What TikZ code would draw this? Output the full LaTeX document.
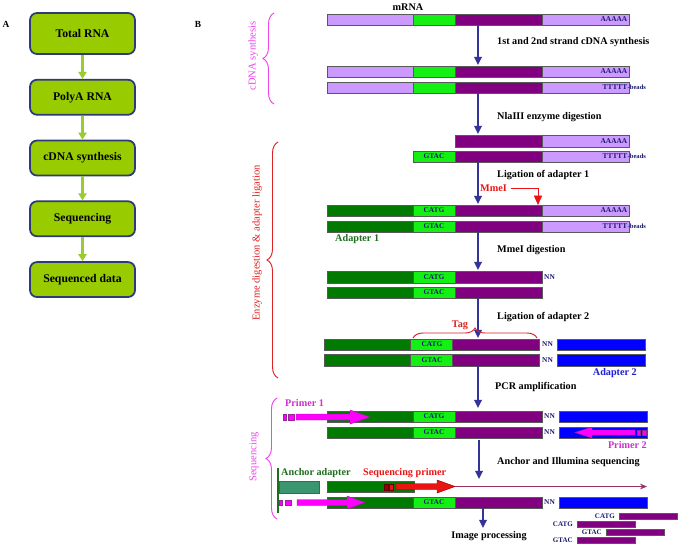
\documentclass[tikz,border=0pt]{standalone}
\usepackage{fontspec}
\setmainfont{Liberation Serif}
\usetikzlibrary{arrows.meta,positioning,decorations.pathreplacing}

\definecolor{lilac}{RGB}{204,153,255}
\definecolor{cutgreen}{RGB}{20,240,20}
\definecolor{tagpurple}{RGB}{128,0,128}
\definecolor{adgreen}{RGB}{0,122,0}
\definecolor{adblue}{RGB}{0,0,255}
\definecolor{navytext}{RGB}{26,26,110}
\definecolor{steparrow}{RGB}{51,51,153}
\definecolor{flowfill}{RGB}{153,204,0}
\definecolor{flowline}{RGB}{46,58,120}
\definecolor{flowarrow}{RGB}{153,204,51}
\definecolor{primerpink}{RGB}{255,0,255}
\definecolor{primerline}{RGB}{150,40,150}
\definecolor{primerlabel}{RGB}{204,51,204}
\definecolor{anchorgreen}{RGB}{58,150,110}
\definecolor{readline}{RGB}{153,51,102}
\definecolor{bracepink}{RGB}{238,68,238}
\definecolor{bracered}{RGB}{220,34,34}
\definecolor{cutred}{RGB}{235,20,20}
\definecolor{labgreen}{RGB}{30,110,30}
\definecolor{labblue}{RGB}{30,30,210}

\begin{document}
\begin{tikzpicture}[x=0.03cm, y=-0.03cm,
  flowbox/.style={draw=flowline, line width=1.5pt, fill=flowfill, rounded corners=6pt, minimum width=3.15cm, minimum height=1.05cm, font=\bfseries\fontsize{10}{12}\selectfont},
  flowarr/.style={-{Triangle[length=6pt,width=7pt]}, line width=1.8pt, draw=flowarrow},
  seg/.style={draw=black!65, line width=0.5pt},
  steparr/.style={-{Triangle[length=7pt,width=6.5pt]}, line width=1.6pt, draw=steparrow},
  cutarr/.style={-{Triangle[length=8pt,width=7pt]}, line width=0.6pt, draw=cutred},
  lab/.style={font=\bfseries\fontsize{8.7}{10}\selectfont, inner sep=0pt},
  base/.style={font=\bfseries\fontsize{6.3}{7}\selectfont, inner sep=0pt, text=navytext},
  bead/.style={font=\bfseries\fontsize{5.6}{6}\selectfont, inner sep=0pt, text=navytext},
  side/.style={font=\fontsize{9}{10}\selectfont, inner sep=0pt, rotate=90},
  curly/.style={decorate, decoration={brace, amplitude=0.33cm}, line width=0.8pt},
  primer/.style={fill=primerpink, draw=primerline, line width=0.4pt}
]
\path[use as bounding box, fill=white] (0,0) rectangle (681,548);

% A: workflow
\node[font=\bfseries\fontsize{8}{9}\selectfont] (panA) at (6,24) {A};
\node[flowbox, minimum height=1.23cm] (total) at (82.5,33.5) {Total RNA};
\node[flowbox, below=0.72cm of total] (polya) {PolyA RNA};
\node[flowbox, below=0.72cm of polya] (cdna) {cDNA synthesis};
\node[flowbox, below=0.72cm of cdna] (seq) {Sequencing};
\node[flowbox, below=0.72cm of seq] (data) {Sequenced data};
\draw[flowarr] (total) -- (polya);
\draw[flowarr] (polya) -- (cdna);
\draw[flowarr] (cdna) -- (seq);
\draw[flowarr] (seq) -- (data);

% B: tag protocol
\node[font=\bfseries\fontsize{8}{9}\selectfont] (panB) at (198,24) {B};
\node[lab] (mrna) at (408,7) {mRNA};

\foreach \ya/\yb in {14/25, 66/77, 82/93} {
  \draw[seg, fill=lilac] (327,\ya) rectangle (413,\yb);
  \draw[seg, fill=cutgreen] (413,\ya) rectangle (455,\yb);
  \draw[seg, fill=tagpurple] (455,\ya) rectangle (542,\yb);
  \draw[seg, fill=lilac] (542,\ya) rectangle (629,\yb);
}
\draw[seg, fill=tagpurple] (455,135) rectangle (542,147);
\draw[seg, fill=lilac] (542,135) rectangle (629,147);
\draw[seg, fill=cutgreen] (413,151) rectangle (455,162);
\draw[seg, fill=tagpurple] (455,151) rectangle (542,162);
\draw[seg, fill=lilac] (542,151) rectangle (629,162);
\foreach \ya/\yb in {205/216, 221/232} {
  \draw[seg, fill=adgreen] (327,\ya) rectangle (413,\yb);
  \draw[seg, fill=cutgreen] (413,\ya) rectangle (455,\yb);
  \draw[seg, fill=tagpurple] (455,\ya) rectangle (542,\yb);
  \draw[seg, fill=lilac] (542,\ya) rectangle (629,\yb);
}
\foreach \dx/\ya/\yb in {0/271/283, 0/287/298, -3/339/350, -3/354/366, 0/411/422, 0/427/438, 0/497/508} {
  \draw[seg, fill=adgreen] (327+\dx,\ya) rectangle (413+\dx,\yb);
  \draw[seg, fill=cutgreen] (413+\dx,\ya) rectangle (455+\dx,\yb);
  \draw[seg, fill=tagpurple] (455+\dx,\ya) rectangle (542+\dx,\yb);
}
\foreach \xa/\ya/\yb in {557/339/350, 557/354/366, 559/411/422, 559/427/438, 559/497/508}
  \draw[seg, fill=adblue] (\xa,\ya) rectangle (\xa+88,\yb);
\draw[seg, fill=adgreen] (327,481) rectangle (414,492);
\draw[seg, fill=anchorgreen] (279,481) rectangle (319,493);

% base labels
\foreach \y [count=\i] in {19.5, 71.5, 141, 210.5}
  \node[base, anchor=east] (polyA\i) at (627.5,\y) {AAAAA};
\foreach \y [count=\i] in {87.5, 156.5, 226.5} {
  \node[base, anchor=east] (polyT\i) at (627.5,\y) {TTTTT};
  \node[bead, anchor=west] (bead\i) at (polyT\i.east) {-beads};
}
\foreach \x/\y [count=\i] in {434/210.5, 434/277, 432/344.5, 434/416.5}
  \node[base] (catg\i) at (\x,\y) {CATG};
\foreach \x/\y [count=\i] in {434/156.5, 434/226.5, 434/292.5, 432/360, 434/432.5, 434/502.5}
  \node[base] (gtac\i) at (\x,\y) {GTAC};
\foreach \x/\y [count=\i] in {544/277, 542/344.5, 542/360, 544/416.5, 544/432.5, 544/502.5}
  \node[base, anchor=west] (nn\i) at (\x,\y) {NN};

% steps
\foreach \i/\x/\ya/\yb in {1/478/25/65, 2/478/93/134, 3/478/162/204, 4/478/232/270, 5/478/298/338, 6/478/366/408, 7/479/440/479, 8/483/508/528} {
  \coordinate (from\i) at (\x,\ya);
  \coordinate (to\i) at (\x,\yb);
  \draw[steparr] (from\i) -- (to\i);
}
\node[lab, anchor=west] (syn) at (497,42) {1st and 2nd strand cDNA synthesis};
\node[lab, anchor=west] (nla) at (497,117) {NlaIII enzyme digestion};
\node[lab, anchor=west] (lig1) at (497,175) {Ligation of adapter 1};
\node[lab, anchor=west] (mdig) at (497,250) {MmeI digestion};
\node[lab, anchor=west] (lig2) at (497,317) {Ligation of adapter 2};
\node[lab, anchor=west] (pcr) at (495,387) {PCR amplification};
\node[lab, anchor=west] (illu) at (497,462) {Anchor and Illumina sequencing};
\node[lab] (img) at (489,536) {Image processing};

% MmeI site and tag
\node[lab, text=cutred, anchor=west] (mmei) at (480,188) {MmeI};
\coordinate (mmeisite) at (538,205);
\draw[cutarr, shorten <=3pt] (mmei.east) -| (mmeisite);
\draw[curly, bracered, decoration={amplitude=0.3cm}] (413,338) -- (537,338);
\node[lab, text=bracered] (tag) at (460,325) {Tag};
\node[lab, text=labgreen, anchor=west] (ad1) at (335,239) {Adapter 1};
\node[lab, text=labblue, anchor=east] (ad2) at (637,373) {Adapter 2};

% primers
\node[lab, text=primerlabel, anchor=west] (pr1) at (285,403) {Primer 1};
\filldraw[primer] (283,414) rectangle (286,420) (288,414) rectangle (294,420);
\filldraw[primer] (296,414) -- (350,414) -- (350,410) -- (370,417) -- (350,424) -- (350,420) -- (296,420) -- cycle;
\node[lab, text=primerlabel, anchor=east] (pr2) at (647,445) {Primer 2};
\filldraw[primer] (637,430) rectangle (640,435) (642,430) rectangle (646,435);
\filldraw[primer] (635,430) -- (592,430) -- (592,427) -- (575,432.5) -- (592,438) -- (592,435) -- (635,435) -- cycle;
\filldraw[primer] (279,500) rectangle (282,505) (285,500) rectangle (291,505);
\filldraw[primer] (297,499.5) -- (347,499.5) -- (347,496) -- (365,502.5) -- (347,509) -- (347,505.5) -- (297,505.5) -- cycle;

% anchor and sequencing primer
\draw[labgreen, line width=1.2pt] (278,468) -- (278,513);
\node[lab, text=labgreen, anchor=west] (anch) at (281,473) {Anchor adapter};
\node[lab, text=cutred, anchor=west] (sprim) at (363,473) {Sequencing primer};
\filldraw[fill=red!60!black, draw=red!40!black, line width=0.4pt] (384,484) rectangle (388,490);
\filldraw[fill=cutred, draw=red!40!black, line width=0.4pt] (389,484) rectangle (393,490);
\filldraw[fill=cutred, draw=red!60!black, line width=0.4pt] (396,483.5) -- (437,483.5) -- (437,480) -- (455,486.5) -- (437,493) -- (437,489.5) -- (396,489.5) -- cycle;
\coordinate (readstart) at (455,486.5);
\coordinate (readend) at (647,486.5);
\draw[readline, line width=0.8pt, -{Stealth[length=6pt,width=5pt]}] (readstart) -- (readend);

% reads
\foreach \xa/\y/\t [count=\i] in {619/516/CATG, 577/524/CATG, 606/532/GTAC, 577/540/GTAC} {
  \draw[seg, fill=tagpurple] (\xa,\y-3) rectangle (\xa+58,\y+3);
  \node[base, font=\bfseries\fontsize{6}{7}\selectfont, anchor=east] (read\i) at (\xa-4,\y) {\t};
}

% stage braces
\draw[curly, bracepink] (274,104) -- (274,13);
\node[side, text=bracepink] (cdnaside) at (253,56) {cDNA synthesis};
\draw[curly, bracered] (278,378) -- (278,142);
\node[side, text=bracered] (enzside) at (257,243) {Enzyme digestion \& adapter ligation};
\draw[curly, bracepink] (277,519) -- (277,398);
\node[side, text=bracepink] (seqside) at (254,457) {Sequencing};
\end{tikzpicture}
\end{document}
